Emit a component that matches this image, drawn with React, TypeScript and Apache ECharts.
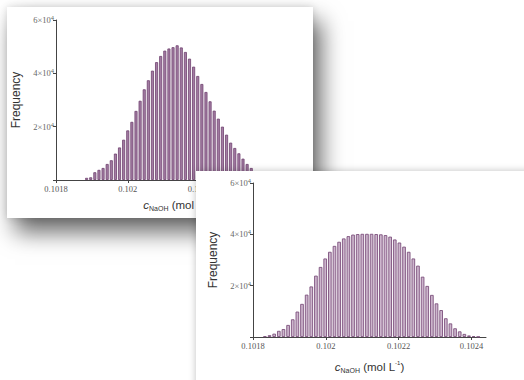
import React, { useEffect, useRef } from 'react';
import * as echarts from 'echarts';

// Tick positions and labels
const xTickValues = [0.1018, 0.102, 0.1022, 0.1024];
const yTickValues = [0, 20000, 40000, 60000];
const yTickMantissa = ['', '2', '4', '6'];

// Top histogram (narrow distribution) — first bin centre and bin width
const topBinStart = 0.1018853;
const topBinWidth = 0.00001147;
const topCounts = [
  800, 1000, 2900, 3800, 4500, 6000, 7400, 9900, 12200, 15100,
  18600, 21800, 25900, 29700, 34000, 37400, 41000, 44200, 46500, 48500,
  49300, 49800, 50500, 49700, 48000, 45500, 42500, 39000, 36000, 33000,
  29500, 26000, 23000, 20000, 17000, 14000, 12000, 10000, 8000, 6000,
  4500, 3200, 2200, 1400, 800,
];

// Bottom histogram (flat-topped distribution)
const bottomBinStart = 0.1018327;
const bottomBinWidth = 0.00001274;
const bottomCounts = [
  300, 700, 1300, 2400, 3100, 4700, 6900, 9900, 12900, 16500,
  19700, 23900, 27300, 30600, 33200, 35500, 37100, 38400, 39300, 39900,
  40100, 40200, 40200, 40200, 40100, 40000, 39700, 39100, 38000, 36800,
  35200, 33200, 30600, 27800, 23500, 19900, 16400, 13100, 10500, 7300,
  5300, 3400, 2200, 1200, 600, 300, 100,
];

const serif = '"Liberation Serif", "DejaVu Serif", serif';
const sans = '"Liberation Sans", Arial, sans-serif';

function binData(start: number, width: number, counts: number[]) {
  return counts.map((c, i) => [start + i * width, c]);
}

interface Cfg {
  grid: { left: number; right: number; top: number; bottom: number };
  xMax: number;
  xNameGap: number;
  yNameGap: number;
  barWidth: number;
  fill: string;
  border: string;
  borderWidth: number;
}

function makeOption(data: number[][], cfg: Cfg) {
  return {
    animation: false,
    grid: { ...cfg.grid, outerBoundsMode: 'none' },
    xAxis: {
      type: 'value',
      min: 0.1018,
      max: cfg.xMax,
      splitLine: { show: false },
      axisLine: { show: true, onZero: false, lineStyle: { color: '#444', width: 1 } },
      axisTick: { show: true, length: 3, customValues: xTickValues, lineStyle: { color: '#444' } },
      axisLabel: {
        customValues: xTickValues,
        formatter: (v: number) => String(Number(v.toFixed(4))),
        fontFamily: serif,
        fontSize: 8.5,
        color: '#555',
        margin: 4,
      },
      name: '{i|c}{sub|NaOH}{t| (mol L}{sup|-1}{t|)}',
      nameLocation: 'middle',
      nameGap: cfg.xNameGap,
      nameTextStyle: {
        rich: {
          i: { fontFamily: sans, fontStyle: 'italic', fontSize: 11.5, color: '#333', lineHeight: 14 },
          sub: { fontFamily: sans, fontSize: 7, color: '#333', lineHeight: 8, verticalAlign: 'bottom' },
          t: { fontFamily: sans, fontSize: 11.5, color: '#333', lineHeight: 14 },
          sup: { fontFamily: sans, fontSize: 6, color: '#333', lineHeight: 8, verticalAlign: 'top' },
        },
      },
    },
    yAxis: {
      type: 'value',
      min: 0,
      max: 60000,
      interval: 20000,
      splitLine: { show: false },
      axisLine: { show: true, lineStyle: { color: '#444', width: 1 } },
      axisTick: { show: true, length: 3, lineStyle: { color: '#444' } },
      axisLabel: {
        margin: 2,
        formatter: (v: number) => {
          const idx = yTickValues.indexOf(v);
          if (idx <= 0) return '';
          return `{n|${yTickMantissa[idx]}×10}{s|4}`;
        },
        rich: {
          n: { fontFamily: serif, fontSize: 8.5, color: '#666', lineHeight: 12 },
          s: { fontFamily: serif, fontSize: 6.5, color: '#666', lineHeight: 7, verticalAlign: 'top' },
        },
      },
      name: 'Frequency',
      nameLocation: 'middle',
      nameRotate: 90,
      nameGap: cfg.yNameGap,
      nameTextStyle: { fontFamily: sans, fontSize: 12, color: '#333' },
    },
    series: [
      {
        type: 'bar',
        data,
        barWidth: cfg.barWidth,
        itemStyle: { color: cfg.fill, borderColor: cfg.border, borderWidth: cfg.borderWidth },
      },
    ],
  };
}

export default function App() {
  const r1 = useRef<HTMLDivElement>(null);
  const r2 = useRef<HTMLDivElement>(null);

  useEffect(() => {
    document.body.style.margin = '0';
    const c1 = echarts.init(r1.current!, null, { renderer: 'svg' });
    const c2 = echarts.init(r2.current!, null, { renderer: 'svg' });
    c1.setOption(
      makeOption(binData(topBinStart, topBinWidth, topCounts), {
        grid: { left: 49, right: 13, top: 13, bottom: 38 },
        xMax: 0.10248,
        xNameGap: 18,
        yNameGap: 26,
        barWidth: 3,
        fill: '#a47ea4',
        border: '#6e406e',
        borderWidth: 0.8,
      })
    );
    c2.setOption(
      makeOption(binData(bottomBinStart, bottomBinWidth, bottomCounts), {
        grid: { left: 57, right: 38, top: 12, bottom: 43 },
        xMax: 0.10244,
        xNameGap: 23,
        yNameGap: 27,
        barWidth: 3.6,
        fill: '#cdb6cd',
        border: '#7d507d',
        borderWidth: 0.9,
      })
    );
    return () => {
      c1.dispose();
      c2.dispose();
    };
  }, []);

  return (
    <div
      style={{
        position: 'fixed',
        left: 0,
        top: 0,
        width: 524,
        height: 380,
        background: '#ffffff',
        overflow: 'hidden',
      }}
    >
      <div
        style={{
          position: 'absolute',
          left: 7,
          top: 7,
          width: 306,
          height: 211,
          background: '#fff',
          zIndex: 1,
          boxShadow: '8px 14px 22px rgba(0,0,0,0.6), 0 0 8px rgba(0,0,0,0.14)',
        }}
      >
        <div ref={r1} style={{ width: 306, height: 211 }} />
      </div>
      <div
        style={{
          position: 'absolute',
          left: 196,
          top: 171,
          width: 340,
          height: 220,
          background: '#fff',
          zIndex: 2,
          boxShadow: '0 0 7px rgba(0,0,0,0.25)',
        }}
      >
        <div ref={r2} style={{ width: 328, height: 209 }} />
      </div>
    </div>
  );
}
